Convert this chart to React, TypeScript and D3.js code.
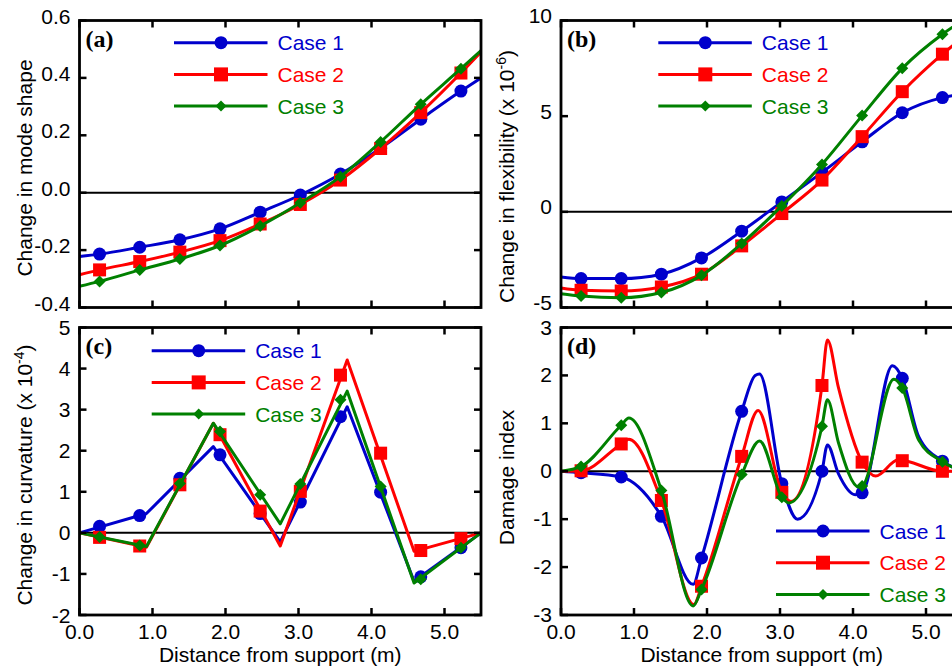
import React from "react";
import * as d3 from "d3";

// shared
const caseNames = ["Case 1", "Case 2", "Case 3"];
const caseColors = ["#0000cc", "#ff0000", "#008000"];
const markerX = [0.275, 0.825, 1.375, 1.925, 2.475, 3.025, 3.575, 4.125, 4.675, 5.225];
const xTicks = [0, 1, 2, 3, 4, 5];
const xTickLabels = ["0.0", "1.0", "2.0", "3.0", "4.0", "5.0"];

// (a) change in mode shape
const aLineX = [0, 0.275, 0.825, 1.375, 1.925, 2.475, 3.025, 3.575, 4.125, 4.675, 5.225, 5.5];
const aCase1 = [-0.222, -0.214, -0.19, -0.164, -0.126, -0.068, -0.008, 0.065, 0.155, 0.256, 0.354, 0.4];
const aCase2 = [-0.286, -0.269, -0.24, -0.207, -0.167, -0.109, -0.041, 0.044, 0.154, 0.279, 0.417, 0.49];
const aCase3 = [-0.326, -0.309, -0.269, -0.231, -0.184, -0.116, -0.035, 0.056, 0.177, 0.308, 0.432, 0.495];
const aTicks = [-0.4, -0.2, 0, 0.2, 0.4, 0.6];
const aTickLabels = ["-0.4", "-0.2", "0.0", "0.2", "0.4", "0.6"];

// (b) change in flexibility (x 10^-6)
const bLineX = [0, 0.275, 0.825, 1.375, 1.925, 2.475, 3.025, 3.575, 4.125, 4.675, 5.225, 5.5];
const bCase1 = [-3.4, -3.49, -3.49, -3.26, -2.41, -1.01, 0.52, 2.06, 3.66, 5.18, 5.97, 6.15];
const bCase2 = [-3.98, -4.1, -4.14, -3.93, -3.26, -1.78, -0.09, 1.66, 3.93, 6.28, 8.24, 9.1];
const bCase3 = [-4.28, -4.4, -4.49, -4.22, -3.32, -1.66, 0.31, 2.48, 5.03, 7.5, 9.28, 10.0];
const bTicks = [-5, 0, 5, 10];
const bTickLabels = ["-5", "0", "5", "10"];

// (c) change in curvature (x 10^-4)
const cLineX = [0, 0.917, 1.833, 2.75, 3.667, 4.583, 5.5];
const cCase1Line = [0, 0.47, 2.1, -0.22, 3.07, -1.18, 0];
const cCase2Line = [0, -0.35, 2.67, -0.32, 4.21, -0.45, 0];
const cCase3Line = [0, -0.33, 2.67, 0.22, 3.45, -1.22, 0];
const cCase1 = [0.16, 0.42, 1.33, 1.9, 0.47, 0.75, 2.83, 0.99, -1.07, -0.36];
const cCase2 = [-0.11, -0.32, 1.17, 2.39, 0.53, 1.01, 3.84, 1.94, -0.43, -0.14];
const cCase3 = [-0.1, -0.31, 1.2, 2.47, 0.93, 1.19, 3.24, 1.13, -1.13, -0.36];
const cTicks = [-2, -1, 0, 1, 2, 3, 4, 5];
const cTickLabels = ["-2", "-1", "0", "1", "2", "3", "4", "5"];

// (d) damage index
const dCase1Line: [number, number][] = [
  [0, 0], [0.275, -0.03], [0.825, -0.12], [1.375, -0.94], [1.81, -2.36], [1.925, -1.81],
  [2.475, 1.25], [2.66, 2.0], [2.72, 2.03], [3.025, -0.26], [3.24, -1.0], [3.575, 0.0],
  [3.65, 0.55], [3.8, -0.05], [4.03, -0.49], [4.125, -0.45], [4.54, 2.2], [4.675, 1.94],
  [4.9, 0.72], [5.225, 0.21], [5.5, 0],
];
const dCase2Line: [number, number][] = [
  [0, 0], [0.275, 0.01], [0.825, 0.57], [0.93, 0.67], [1.375, -0.61], [1.82, -2.78],
  [1.925, -2.4], [2.475, 0.31], [2.7, 1.27], [3.025, -0.44], [3.15, -0.63], [3.575, 1.79],
  [3.65, 2.74], [3.8, 1.75], [4.125, 0.19], [4.31, -0.1], [4.62, 0.24], [5.225, 0.0], [5.5, 0],
];
const dCase3Line: [number, number][] = [
  [0, 0], [0.275, 0.1], [0.825, 0.96], [0.93, 1.11], [1.375, -0.4], [1.81, -2.81],
  [1.925, -2.47], [2.475, -0.07], [2.72, 0.63], [3.025, -0.54], [3.12, -0.66], [3.575, 0.94],
  [3.65, 1.49], [3.8, 0.6], [4.08, -0.33], [4.125, -0.31], [4.56, 1.92], [4.675, 1.74],
  [4.9, 0.65], [5.225, 0.2], [5.5, 0],
];
const dCase1 = [-0.03, -0.12, -0.94, -1.81, 1.25, -0.26, 0.0, -0.45, 1.94, 0.21];
const dCase2 = [0.01, 0.57, -0.61, -2.4, 0.31, -0.44, 1.79, 0.19, 0.22, 0.0];
const dCase3 = [0.1, 0.96, -0.4, -2.47, -0.07, -0.54, 0.94, -0.31, 1.74, 0.2];
const dTicks = [-3, -2, -1, 0, 1, 2, 3];
const dTickLabels = ["-3", "-2", "-1", "0", "1", "2", "3"];

const SANS = "'Liberation Sans', Arial, sans-serif";
const SERIF = "'Liberation Serif', 'Times New Roman', serif";

type Series = { line: [number, number][]; markers: number[] };

function Marker({ kind, x, y, color, legend }: any) {
  if (kind === 0) return <circle cx={x} cy={y} r={6.5} fill={color} />;
  if (kind === 1) {
    const s = legend ? 14 : 13;
    return <rect x={x - s / 2} y={y - s / 2} width={s} height={s} fill={color} />;
  }
  const r = legend ? 5.5 : 6;
  return <path d={`M${x},${y - r}L${x + r},${y}L${x},${y + r}L${x - r},${y}Z`} fill={color} />;
}

function Panel(props: any) {
  const {
    left, top, width, height, yDomain, yTicks, yTickLabels, tickDy, series, curve,
    legendX, legendY, label, ylabel, ylabelX, ylabelY, showX,
  } = props;
  const x = d3.scaleLinear().domain([0, 5.5]).range([left, left + width]);
  const y = d3.scaleLinear().domain(yDomain).range([top + height, top]);
  const line = d3
    .line<[number, number]>()
    .x((d) => x(d[0]))
    .y((d) => y(d[1]))
    .curve(curve);
  const tl = 7;

  return (
    <g>
      {/* zero line */}
      <line x1={x(0)} x2={x(5.5)} y1={y(0)} y2={y(0)} stroke="#000" strokeWidth={2} />

      {series.map((s: Series, i: number) => (
        <g key={i}>
          <path d={line(s.line) || ""} fill="none" stroke={caseColors[i]} strokeWidth={3} strokeLinejoin="round" />
          {s.markers.map((v, j) => (
            <Marker key={j} kind={i} x={x(markerX[j])} y={y(v)} color={caseColors[i]} />
          ))}
        </g>
      ))}

      {/* frame and inward ticks */}
      <rect x={left} y={top} width={width} height={height} fill="none" stroke="#000" strokeWidth={2.8} />
      {xTicks.map((t) => (
        <g key={t}>
          <line x1={x(t)} x2={x(t)} y1={top} y2={top + tl} stroke="#000" strokeWidth={2.5} />
          <line x1={x(t)} x2={x(t)} y1={top + height} y2={top + height - tl} stroke="#000" strokeWidth={2.5} />
        </g>
      ))}
      {yTicks.map((t: number) => (
        <g key={t}>
          <line x1={left} x2={left + tl} y1={y(t)} y2={y(t)} stroke="#000" strokeWidth={2.5} />
          <line x1={left + width} x2={left + width - tl} y1={y(t)} y2={y(t)} stroke="#000" strokeWidth={2.5} />
        </g>
      ))}

      {/* y tick labels */}
      {yTicks.map((t: number, i: number) => (
        <text key={t} x={left - 9} y={y(t) + tickDy} textAnchor="end" fontFamily={SANS} fontSize={21}>
          {yTickLabels[i]}
        </text>
      ))}

      {/* x tick labels and title */}
      {showX && (
        <g>
          {xTicks.map((t, i) => (
            <text key={t} x={x(t)} y={top + height + 23.5} textAnchor="middle" fontFamily={SANS} fontSize={21}>
              {xTickLabels[i]}
            </text>
          ))}
          <text x={x(2.75)} y={662} textAnchor="middle" fontFamily={SANS} fontSize={21}>
            Distance from support (m)
          </text>
        </g>
      )}

      {/* y title */}
      <text
        transform={`translate(${ylabelX},${ylabelY}) rotate(-90)`}
        textAnchor="middle"
        fontFamily={SANS}
        fontSize={21}
      >
        {ylabel}
      </text>

      {/* panel label */}
      <text x={left + 6} y={top + 26} fontFamily={SERIF} fontWeight="bold" fontSize={24}>
        {label}
      </text>

      {/* legend */}
      {caseNames.map((name, i) => {
        const ly = legendY + i * 31.7;
        return (
          <g key={name}>
            <line x1={legendX} x2={legendX + 93.5} y1={ly} y2={ly} stroke={caseColors[i]} strokeWidth={3} />
            <Marker kind={i} x={legendX + 47} y={ly} color={caseColors[i]} legend />
            <text x={legendX + 103.5} y={ly + 7.5} fill={caseColors[i]} fontFamily={SANS} fontSize={21}>
              {name}
            </text>
          </g>
        );
      })}
    </g>
  );
}

const zip = (xs: number[], vs: number[]): [number, number][] => xs.map((v, i) => [v, vs[i]]);

export default function App() {
  const W = 952;
  const H = 667;
  const PW = 5.5 * 73;
  const PH = 287.5;

  const aSeries: Series[] = [
    { line: zip(aLineX, aCase1), markers: aCase1.slice(1, -1) },
    { line: zip(aLineX, aCase2), markers: aCase2.slice(1, -1) },
    { line: zip(aLineX, aCase3), markers: aCase3.slice(1, -1) },
  ];
  const bSeries: Series[] = [
    { line: zip(bLineX, bCase1), markers: bCase1.slice(1, -1) },
    { line: zip(bLineX, bCase2), markers: bCase2.slice(1, -1) },
    { line: zip(bLineX, bCase3), markers: bCase3.slice(1, -1) },
  ];
  const cSeries: Series[] = [
    { line: zip(cLineX, cCase1Line), markers: cCase1 },
    { line: zip(cLineX, cCase2Line), markers: cCase2 },
    { line: zip(cLineX, cCase3Line), markers: cCase3 },
  ];
  const dSeries: Series[] = [
    { line: dCase1Line, markers: dCase1 },
    { line: dCase2Line, markers: dCase2 },
    { line: dCase3Line, markers: dCase3 },
  ];

  return (
    <svg
      width={W}
      height={H}
      style={{ position: "absolute", left: 0, top: 0, background: "#fff" }}
    >
      <Panel
        left={79.5} top={20.5} width={PW} height={287} yDomain={[-0.4, 0.6]}
        yTicks={aTicks} yTickLabels={aTickLabels} tickDy={3} series={aSeries}
        curve={d3.curveMonotoneX} legendX={174} legendY={42.7} label="(a)"
        ylabel="Change in mode shape" ylabelX={32} ylabelY={168} showX={false}
      />
      <Panel
        left={561} top={20.5} width={PW} height={287} yDomain={[-5, 10]}
        yTicks={bTicks} yTickLabels={bTickLabels} tickDy={2.5} series={bSeries}
        curve={d3.curveMonotoneX} legendX={658.3} legendY={42.7} label="(b)"
        ylabel={
          <>
            Change in flexibility (x 10
            <tspan dy={-7.5} fontSize={14}>-6</tspan>
            <tspan dy={7.5}>)</tspan>
          </>
        }
        ylabelX={513.5} ylabelY={176.5} showX={false}
      />
      <Panel
        left={79.5} top={327.5} width={PW} height={PH} yDomain={[-2, 5]}
        yTicks={cTicks} yTickLabels={cTickLabels} tickDy={7.5} series={cSeries}
        curve={d3.curveLinear} legendX={151.7} legendY={350.7} label="(c)"
        ylabel={
          <>
            Change in curvature (x 10
            <tspan dy={-7.5} fontSize={14}>-4</tspan>
            <tspan dy={7.5}>)</tspan>
          </>
        }
        ylabelX={31.5} ylabelY={475} showX={true}
      />
      <Panel
        left={561} top={327.5} width={PW} height={PH} yDomain={[-3, 3]}
        yTicks={dTicks} yTickLabels={dTickLabels} tickDy={7} series={dSeries}
        curve={d3.curveMonotoneX} legendX={776} legendY={531} label="(d)"
        ylabel="Damage index" ylabelX={514} ylabelY={477.5} showX={true}
      />
    </svg>
  );
}
